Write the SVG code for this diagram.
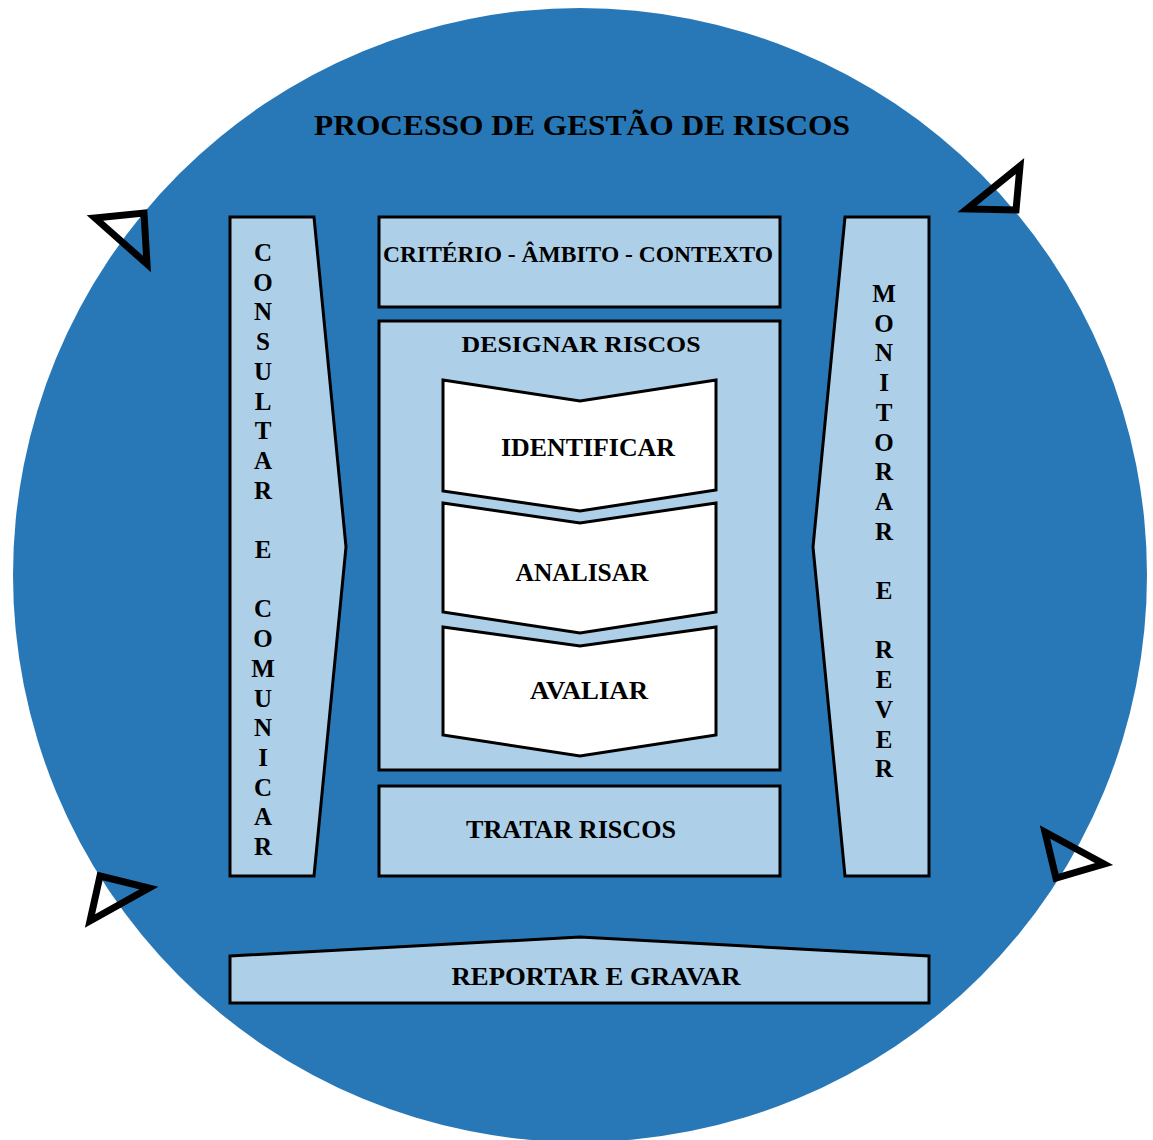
<svg xmlns="http://www.w3.org/2000/svg" width="1153" height="1140" viewBox="0 0 1153 1140">
<style>
.box{fill:#aecfe8;stroke:#000;stroke-width:3;stroke-linejoin:miter}
.chev{fill:#fff;stroke:#000;stroke-width:3}
.t{font-family:"Liberation Serif","Times New Roman",serif;font-weight:bold;fill:#000;text-anchor:middle}
.v{font-family:"Liberation Serif","Times New Roman",serif;font-weight:bold;fill:#000;text-anchor:middle;font-size:25px}
.arr{fill:none;stroke:#000;stroke-width:7;stroke-linejoin:miter}
</style>
<rect width="1153" height="1140" fill="#fff"/>
<circle cx="580" cy="575" r="567" fill="#2878b8"/>
<g id="title"><text class="t" x="582" y="135" font-size="30" textLength="536" lengthAdjust="spacingAndGlyphs">PROCESSO DE GESTÃO DE RISCOS</text></g>
<g id="consultar">
<polygon class="box" points="230,217 314,217 346,547 314,876 230,876"/>
<text class="v"><tspan x="263" y="261">C</tspan><tspan x="263" y="290.7">O</tspan><tspan x="263" y="320.4">N</tspan><tspan x="263" y="350.1">S</tspan><tspan x="263" y="379.8">U</tspan><tspan x="263" y="409.5">L</tspan><tspan x="263" y="439.2">T</tspan><tspan x="263" y="468.9">A</tspan><tspan x="263" y="498.6">R</tspan><tspan x="263" y="558">E</tspan><tspan x="263" y="617.4">C</tspan><tspan x="263" y="647.1">O</tspan><tspan x="263" y="676.8">M</tspan><tspan x="263" y="706.5">U</tspan><tspan x="263" y="736.2">N</tspan><tspan x="263" y="765.9">I</tspan><tspan x="263" y="795.6">C</tspan><tspan x="263" y="825.3">A</tspan><tspan x="263" y="855">R</tspan></text>
</g>
<g id="monitorar">
<polygon class="box" points="845,217 929,217 929,876 845,876 813,547"/>
<text class="v"><tspan x="884" y="302">M</tspan><tspan x="884" y="331.7">O</tspan><tspan x="884" y="361.4">N</tspan><tspan x="884" y="391.1">I</tspan><tspan x="884" y="420.8">T</tspan><tspan x="884" y="450.5">O</tspan><tspan x="884" y="480.2">R</tspan><tspan x="884" y="509.9">A</tspan><tspan x="884" y="539.6">R</tspan><tspan x="884" y="599">E</tspan><tspan x="884" y="658.4">R</tspan><tspan x="884" y="688.1">E</tspan><tspan x="884" y="717.8">V</tspan><tspan x="884" y="747.5">E</tspan><tspan x="884" y="777.2">R</tspan></text>
</g>
<g id="criterio">
<rect class="box" x="379" y="217" width="401" height="90"/>
<text class="t" x="578" y="262" font-size="23" textLength="390" lengthAdjust="spacingAndGlyphs">CRITÉRIO - ÂMBITO - CONTEXTO</text>
</g>
<g id="designar">
<rect class="box" x="379" y="321" width="401" height="449"/>
<text class="t" x="581" y="352" font-size="24" textLength="239" lengthAdjust="spacingAndGlyphs">DESIGNAR RISCOS</text>
</g>
<g id="identificar">
<polygon class="chev" points="443,380 580,401 716,380 716,490 580,511 443,491"/>
<text class="t" x="588" y="456" font-size="25" textLength="174" lengthAdjust="spacingAndGlyphs">IDENTIFICAR</text>
</g>
<g id="analisar">
<polygon class="chev" points="443,503 580,523 716,503 716,612 580,633 443,612"/>
<text class="t" x="582" y="581" font-size="25" textLength="133" lengthAdjust="spacingAndGlyphs">ANALISAR</text>
</g>
<g id="avaliar">
<polygon class="chev" points="443,627 580,646 716,627 716,735 580,756 443,735"/>
<text class="t" x="589" y="699" font-size="25" textLength="118" lengthAdjust="spacingAndGlyphs">AVALIAR</text>
</g>
<g id="tratar">
<rect class="box" x="379" y="786" width="401" height="90"/>
<text class="t" x="571" y="838" font-size="25" textLength="210" lengthAdjust="spacingAndGlyphs">TRATAR RISCOS</text>
</g>
<g id="reportar">
<polygon class="box" points="230,956 580,937 929,956 929,1003 230,1003"/>
<text class="t" x="596" y="985" font-size="26" textLength="289" lengthAdjust="spacingAndGlyphs">REPORTAR E GRAVAR</text>
</g>
<g id="connectors">
<polygon class="arr" points="95,218 144,213 147,264"/>
<polygon class="arr" points="1020,166 967,209 1016,210"/>
<polygon class="arr" points="1045,832 1104,864 1056,878"/>
<polygon class="arr" points="100,876 149,888 90,921"/>
</g>
</svg>
